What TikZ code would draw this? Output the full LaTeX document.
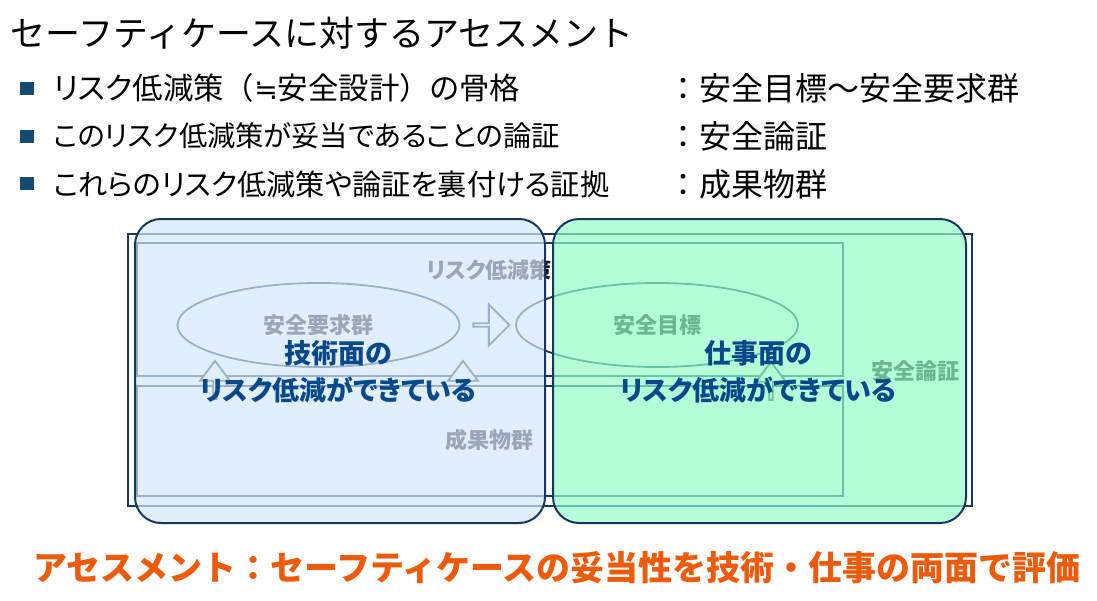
\documentclass[tikz,border=0pt]{standalone}
\usepackage{fontspec}
\setmainfont{Noto Sans CJK JP}
\newfontfamily\jpp{Noto Sans CJK JP}[RawFeature=+palt]
\newfontfamily\dejavu{DejaVu Sans}
\usetikzlibrary{shapes.geometric,shapes.arrows}
\definecolor{navy}{RGB}{23,55,94}
\definecolor{txtblue}{RGB}{10,72,140}
\definecolor{bulletc}{RGB}{20,75,110}
\definecolor{orng}{RGB}{236,90,10}
\definecolor{ovblue}{RGB}{212,232,252}
\definecolor{ovgreen}{RGB}{146,255,197}
\definecolor{undertxt}{RGB}{25,25,25}
\begin{document}
\begin{tikzpicture}[x=1pt,y=-1pt,
  boxline/.style={draw=navy, line width=1.8pt, inner sep=0},
  undertext/.style={font=\jpp\fontsize{22}{26}\selectfont\bfseries, text=undertxt, inner sep=0},
  overlaybox/.style={draw=navy, line width=2pt, rounded corners=26pt, fill opacity=0.69, inner sep=0},
  boldlabel/.style={font=\jpp\fontsize{27}{37}\selectfont\bfseries, text=txtblue, align=center, inner sep=0},
  blockarrow/.style={single arrow, draw=navy, fill=white, line width=1.8pt, inner sep=0, line join=miter},
  uparrow/.style={blockarrow, shape border rotate=90, minimum height=38pt, minimum width=30pt, single arrow head extend=7pt, single arrow tip angle=74},
  bulletsq/.style={fill=bulletc, minimum width=14pt, minimum height=13pt, inner sep=0},
  bullettext/.style={font=\jpp, anchor=west, inner sep=0},
  coltext/.style={font=\fontsize{32}{36}\selectfont, anchor=west, inner sep=0},
]
\useasboundingbox (0,0) rectangle (1097,600);

% title and bullets
\node[font=\fontsize{35}{40}\selectfont, anchor=west, inner sep=0] (title) at (10,33) {セーフティケースに対するアセスメント};

\node[bulletsq] (b1) at (26.5,88.5) {};
\node[bulletsq] (b2) at (26.5,136.5) {};
\node[bulletsq] (b3) at (26.5,183.5) {};
\node[bullettext] (t1) at (53,88) {\fontsize{30.4}{34}\selectfont リスク低減策{\rmfamily （}{\dejavu\fontsize{28}{34}\selectfont ≒}安全設計{\rmfamily ）}の骨格};
\node[bullettext] (t2) at (53,136) {\fontsize{28.3}{34}\selectfont このリスク低減策が妥当であることの論証};
\node[bullettext] (t3) at (53,184) {\fontsize{29.2}{34}\selectfont これらのリスク低減策や論証を裏付ける証拠};
\node[coltext] (c1) at (667,88) {：安全目標〜安全要求群};
\node[coltext] (c2) at (667,136) {：安全論証};
\node[coltext] (c3) at (667,184) {：成果物群};

% underlying safety case diagram
\node[boxline, line width=2pt, minimum width=844pt, minimum height=272pt] (arg) at (550,370) {};
\node[boxline, minimum width=706pt, minimum height=133pt] (risk) at (490,309.5) {};
\node[boxline, minimum width=706pt, minimum height=110pt] (prod) at (490,441) {};
\node[undertext] (risklbl) at (489,270) {リスク低減策};
\node[undertext] (prodlbl) at (489,440) {成果物群};
\node[undertext] (arglbl) at (915,371) {安全論証};
\node[boxline, undertext, ellipse, draw=navy, minimum width=282pt, minimum height=84pt] (req) at (318.5,325) {安全要求群};
\node[boxline, undertext, ellipse, draw=navy, minimum width=282pt, minimum height=84pt] (goal) at (657,325) {安全目標};
\node[blockarrow, minimum width=41pt, minimum height=36pt, single arrow head extend=10pt] (ra) at (490.5,325) {};
\node[uparrow] (ua1) at (215,381) {};
\node[uparrow] (ua2) at (463,381) {};
\node[uparrow] (ua3) at (771,382) {};

% overlays
\node[overlaybox, fill=ovblue, minimum width=410pt, minimum height=304pt] (tech) at (340,371) {};
\node[overlaybox, fill=ovgreen, minimum width=413pt, minimum height=304pt] (work) at (759.5,371) {};
\node[boldlabel] (techlbl) at (338,371.5) {技術面の\\リスク低減ができている};
\node[boldlabel] (worklbl) at (758,371.5) {仕事面の\\リスク低減ができている};

% conclusion
\node[font=\fontsize{34}{40}\selectfont\bfseries, text=orng, inner sep=0] (concl) at (557,568) {アセスメント：セーフティケースの妥当性を技術・仕事の両面で評価};
\end{tikzpicture}
\end{document}
